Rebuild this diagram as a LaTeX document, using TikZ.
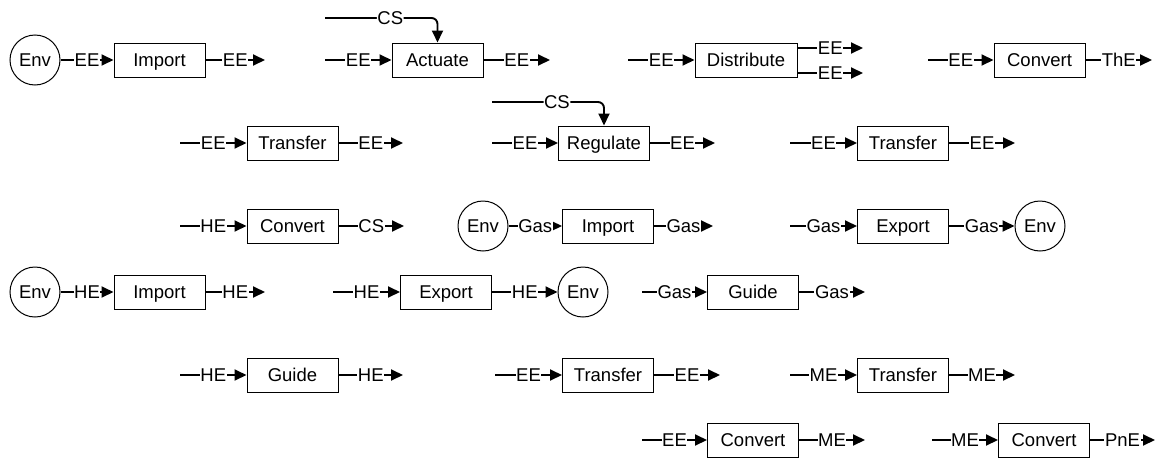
\documentclass[tikz,border=0pt]{standalone}
\usepackage{fontspec}
\setmainfont{Liberation Sans}
\usepackage{tikz}
\usetikzlibrary{positioning, arrows.meta}
\tikzset{
  fnbox/.style={rectangle, draw, line width=1pt, minimum width=91pt, minimum height=34pt, inner sep=2pt, text height=13.2pt, text depth=0pt},
  envnode/.style={circle, draw, line width=1pt, minimum size=50pt, inner sep=0pt},
  flow/.style={line width=1.9pt, -{Triangle[length=12pt,width=11pt]}},
  flowlbl/.style={fill=white, inner sep=0.6pt},
}

\begin{document}
\begin{tikzpicture}[x=1pt, y=-1pt, font=\fontsize{18.5}{21}\selectfont]
    \useasboundingbox (0,0) rectangle (1156,458);

    % row 1
    \node (envA)  at (35,60)    [envnode] {Env};
    \node (impA)  at (159.5,60) [fnbox] {Import};
    \coordinate (impAout) at (265,60);
    \draw[flow] (envA) --node[flowlbl]{EE} (impA);
    \draw[flow] (impA) --node[flowlbl]{EE} (impAout);

    \node (act) at (437.5,60) [fnbox] {Actuate};
    \coordinate (actin)  at (325,60);
    \coordinate (actout) at (550,60);
    \coordinate (actcs)  at (325,18);
    \draw[flow] (actin) --node[flowlbl]{EE} (act);
    \draw[flow] (act) --node[flowlbl]{EE} (actout);
    \draw[flow, rounded corners=6pt] (actcs) -| node[flowlbl, pos=0.29]{CS} (act);

    \node (dist) at (746,60) [fnbox, minimum width=102pt] {Distribute};
    \coordinate (distin)    at (628,60);
    \coordinate (distoutA)  at (863,48);
    \coordinate (distoutB)  at (863,73);
    \draw[flow] (distin) --node[flowlbl]{EE} (dist);
    \draw[flow] ([yshift=12pt]dist.east) --node[flowlbl]{EE} (distoutA);
    \draw[flow] ([yshift=-13pt]dist.east) --node[flowlbl]{EE} (distoutB);

    \node (convA) at (1039.5,60) [fnbox] {Convert};
    \coordinate (convAin)  at (928,60);
    \coordinate (convAout) at (1152,60);
    \draw[flow] (convAin) --node[flowlbl]{EE} (convA);
    \draw[flow] (convA) --node[flowlbl]{ThE} (convAout);

    % row 2
    \node (trA) at (292.5,143) [fnbox] {Transfer};
    \coordinate (trAin)  at (180,143);
    \coordinate (trAout) at (403,143);
    \draw[flow] (trAin) --node[flowlbl]{EE} (trA);
    \draw[flow] (trA) --node[flowlbl]{EE} (trAout);

    \node (reg) at (604,143) [fnbox] {Regulate};
    \coordinate (regin)  at (492,143);
    \coordinate (regout) at (715,143);
    \coordinate (regcs)  at (492,102);
    \draw[flow] (regin) --node[flowlbl]{EE} (reg);
    \draw[flow] (reg) --node[flowlbl]{EE} (regout);
    \draw[flow, rounded corners=6pt] (regcs) -| node[flowlbl, pos=0.29]{CS} (reg);

    \node (trB) at (903,143) [fnbox] {Transfer};
    \coordinate (trBin)  at (790,143);
    \coordinate (trBout) at (1015,143);
    \draw[flow] (trBin) --node[flowlbl]{EE} (trB);
    \draw[flow] (trB) --node[flowlbl]{EE} (trBout);

    % row 3
    \node (convB) at (292.5,226) [fnbox] {Convert};
    \coordinate (convBin)  at (180,226);
    \coordinate (convBout) at (404,226);
    \draw[flow] (convBin) --node[flowlbl]{HE} (convB);
    \draw[flow] (convB) --node[flowlbl]{CS} (convBout);

    \node (envB) at (483,226) [envnode] {Env};
    \node (impB) at (608,226) [fnbox] {Import};
    \coordinate (impBout) at (713,226);
    \draw[flow] (envB) --node[flowlbl]{Gas} (impB);
    \draw[flow] (impB) --node[flowlbl]{Gas} (impBout);

    \node (expA) at (903,226) [fnbox] {Export};
    \node (envC) at (1040,226) [envnode] {Env};
    \coordinate (expAin) at (790,226);
    \draw[flow] (expAin) --node[flowlbl]{Gas} (expA);
    \draw[flow] (expA) --node[flowlbl]{Gas} (envC);

    % row 4
    \node (envD) at (35,292)    [envnode] {Env};
    \node (impC) at (159.5,292) [fnbox] {Import};
    \coordinate (impCout) at (265,292);
    \draw[flow] (envD) --node[flowlbl]{HE} (impC);
    \draw[flow] (impC) --node[flowlbl]{HE} (impCout);

    \node (expB) at (446,292) [fnbox] {Export};
    \node (envE) at (583,292) [envnode] {Env};
    \coordinate (expBin) at (333,292);
    \draw[flow] (expBin) --node[flowlbl]{HE} (expB);
    \draw[flow] (expB) --node[flowlbl]{HE} (envE);

    \node (guiA) at (753,292) [fnbox] {Guide};
    \coordinate (guiAin)  at (642,292);
    \coordinate (guiAout) at (865,292);
    \draw[flow] (guiAin) --node[flowlbl]{Gas} (guiA);
    \draw[flow] (guiA) --node[flowlbl]{Gas} (guiAout);

    % row 5
    \node (guiB) at (292.5,375) [fnbox] {Guide};
    \coordinate (guiBin)  at (180,375);
    \coordinate (guiBout) at (403,375);
    \draw[flow] (guiBin) --node[flowlbl]{HE} (guiB);
    \draw[flow] (guiB) --node[flowlbl]{HE} (guiBout);

    \node (trC) at (608,375) [fnbox] {Transfer};
    \coordinate (trCin)  at (495,375);
    \coordinate (trCout) at (720,375);
    \draw[flow] (trCin) --node[flowlbl]{EE} (trC);
    \draw[flow] (trC) --node[flowlbl]{EE} (trCout);

    \node (trD) at (903,375) [fnbox] {Transfer};
    \coordinate (trDin)  at (790,375);
    \coordinate (trDout) at (1015,375);
    \draw[flow] (trDin) --node[flowlbl]{ME} (trD);
    \draw[flow] (trD) --node[flowlbl]{ME} (trDout);

    % row 6
    \node (convC) at (753,440) [fnbox] {Convert};
    \coordinate (convCin)  at (642,440);
    \coordinate (convCout) at (865,440);
    \draw[flow] (convCin) --node[flowlbl]{EE} (convC);
    \draw[flow] (convC) --node[flowlbl]{ME} (convCout);

    \node (convD) at (1044,440) [fnbox] {Convert};
    \coordinate (convDin)  at (932,440);
    \coordinate (convDout) at (1155,440);
    \draw[flow] (convDin) --node[flowlbl]{ME} (convD);
    \draw[flow] (convD) --node[flowlbl]{PnE} (convDout);
\end{tikzpicture}
\end{document}
